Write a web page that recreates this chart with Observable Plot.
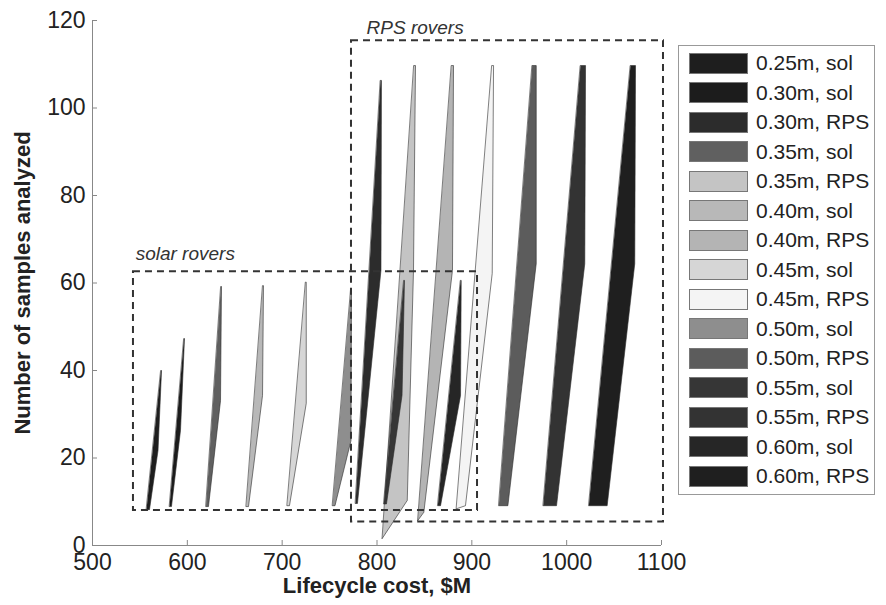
<!DOCTYPE html>
<html><head><meta charset="utf-8">
<script src="https://cdn.jsdelivr.net/npm/d3@7"></script>
<script src="https://cdn.jsdelivr.net/npm/@observablehq/plot@0.6"></script>
<style>
body{margin:0;background:#fff;font-family:"Liberation Sans",Arial,sans-serif;}
#wrap{position:relative;width:886px;height:605px;}
#legend{position:absolute;left:678px;top:45px;width:197px;height:450px;border:1px solid #999;box-sizing:border-box;background:#fff;}
.item{position:absolute;left:10px;height:22px;display:flex;align-items:center;font-size:21px;color:#222;white-space:nowrap;}
.sw{width:59px;height:21px;border:1px solid #777;box-sizing:border-box;margin-right:8px;flex:none;}
</style></head><body><div id="wrap"><div id="legend"></div></div>
<script>
// ---- data ----
const seriesLabels = ["0.25m, sol","0.30m, sol","0.30m, RPS","0.35m, sol","0.35m, RPS","0.40m, sol","0.40m, RPS","0.45m, sol","0.45m, RPS","0.50m, sol","0.50m, RPS","0.55m, sol","0.55m, RPS","0.60m, sol","0.60m, RPS"];
// polygon vertices: lifecycle cost ($M)
const seriesCost = [
  [556.9, 560.1, 569.1, 572.8, 572.2],
  [581.2, 583.3, 592.8, 597.0, 596.5],
  [777.3, 779.4, 804.2, 804.7, 803.7],
  [619.7, 622.3, 635.0, 636.0, 635.5],
  [805.5, 831.9, 838.5, 840.6, 839.0],
  [662.1, 664.5, 679.3, 680.3, 679.6],
  [843.0, 849.4, 879.6, 880.7, 878.6],
  [705.3, 707.7, 725.4, 725.4, 724.8],
  [883.8, 893.3, 921.5, 922.9, 921.3],
  [753.1, 755.7, 772.6, 773.1, 772.5],
  [928.5, 938.0, 967.9, 967.9, 963.7],
  [807.2, 810.0, 826.4, 829.0, 828.4],
  [975.3, 989.3, 1019.1, 1019.9, 1014.6],
  [864.1, 867.0, 888.1, 888.8, 888.2],
  [1023.4, 1042.7, 1071.8, 1072.6, 1067.3]
];
// polygon vertices: number of samples analyzed
const seriesSamples = [
  [8.2, 8.2, 21.7, 40.0, 40.0],
  [8.9, 8.9, 26.3, 47.3, 47.3],
  [9.6, 9.6, 62.9, 106.3, 106.3],
  [8.9, 8.9, 33.1, 59.2, 59.2],
  [1.6, 10.3, 62.9, 109.7, 109.7],
  [8.9, 8.9, 34.3, 59.4, 59.4],
  [5.7, 7.6, 62.9, 109.7, 109.7],
  [9.1, 9.1, 32.5, 60.2, 60.2],
  [8.4, 9.1, 62.2, 109.7, 109.7],
  [9.1, 9.1, 24.0, 58.5, 58.5],
  [9.1, 9.1, 64.4, 109.7, 109.7],
  [9.5, 9.5, 34.3, 60.6, 60.6],
  [9.1, 9.1, 64.4, 109.7, 109.7],
  [9.1, 9.1, 34.3, 60.6, 60.6],
  [9.1, 9.1, 64.4, 109.7, 109.7]
];
const seriesFill = ["#1e1e1e","#1c1c1c","#2c2c2c","#606060","#c4c4c4","#b8b8b8","#b4b4b4","#d6d6d6","#f4f4f4","#8e8e8e","#5c5c5c","#363636","#333333","#262626","#1f1f1f"];

const boxNames = ["solar rovers", "RPS rovers"];
const boxCostLo = [543.2, 773.1];
const boxCostHi = [906.0, 1102.1];
const boxSamplesLo = [8.0, 5.4];
const boxSamplesHi = [62.6, 115.4];
const boxLabelCost = [545.5, 789.0];
const boxLabelSamples = [66.6, 118.4];

const xTicks = [500, 600, 700, 800, 900, 1000, 1100];
const yTicks = [0, 20, 40, 60, 80, 100, 120];
const xTitle = "Lifecycle cost, $M";
const yTitle = "Number of samples analyzed";

// ---- build ----
const polyMarks = seriesLabels.map((name, i) => {
  const rows = seriesCost[i].map((c, j) => ({series: name, cost: c, samples: seriesSamples[i][j]}));
  return Plot.line(rows, {x: "cost", y: "samples", curve: "linear-closed", fill: seriesFill[i], stroke: "#2a2a2a", strokeWidth: 0.6});
});
const boxes = boxNames.map((n, i) => ({name: n, x1: boxCostLo[i], x2: boxCostHi[i], y1: boxSamplesLo[i], y2: boxSamplesHi[i], lx: boxLabelCost[i], ly: boxLabelSamples[i]}));

const chart = Plot.plot({
  width: 886, height: 605,
  marginLeft: 92, marginRight: 225, marginTop: 20, marginBottom: 60,
  style: {fontFamily: "Liberation Sans, Arial, sans-serif", color: "#222", background: "transparent"},
  x: {domain: [500, 1100]},
  y: {domain: [0, 120]},
  marks: [
    Plot.ruleX([xTicks[0]], {stroke: "#888", strokeWidth: 1}),
    Plot.ruleY([yTicks[0]], {stroke: "#888", strokeWidth: 1}),
    Plot.axisX({ticks: xTicks, tickSize: -5, tickPadding: 13, fontSize: 23, stroke: "#888", label: null, tickFormat: d => String(d)}),
    Plot.axisY({ticks: yTicks, tickSize: -5, tickPadding: 12, fontSize: 23, stroke: "#888", label: null, tickFormat: d => String(d)}),
    ...polyMarks,
    Plot.rect(boxes, {x1: "x1", x2: "x2", y1: "y1", y2: "y2", fill: "none", stroke: "#333", strokeWidth: 2, strokeDasharray: "7,5"}),
    Plot.text(boxes, {x: "lx", y: "ly", text: "name", textAnchor: "start", fontStyle: "italic", fontSize: 19, fill: "#333"}),
    Plot.text([xTitle], {frameAnchor: "bottom", dy: 47, textAnchor: "middle", fontSize: 22, fontWeight: "bold", fill: "#222"}),
    Plot.text([yTitle], {frameAnchor: "left", dx: -70, textAnchor: "middle", rotate: -90, fontSize: 22, fontWeight: "bold", fill: "#222"})
  ]
});
document.getElementById("wrap").prepend(chart);

const legend = document.getElementById("legend");
seriesLabels.forEach((name, i) => {
  const it = document.createElement("div");
  it.className = "item";
  it.style.top = (6 + i * 29.5) + "px";
  const sw = document.createElement("div");
  sw.className = "sw";
  sw.style.background = seriesFill[i];
  const t = document.createElement("span");
  t.textContent = name;
  it.appendChild(sw); it.appendChild(t);
  legend.appendChild(it);
});
</script></body></html>
